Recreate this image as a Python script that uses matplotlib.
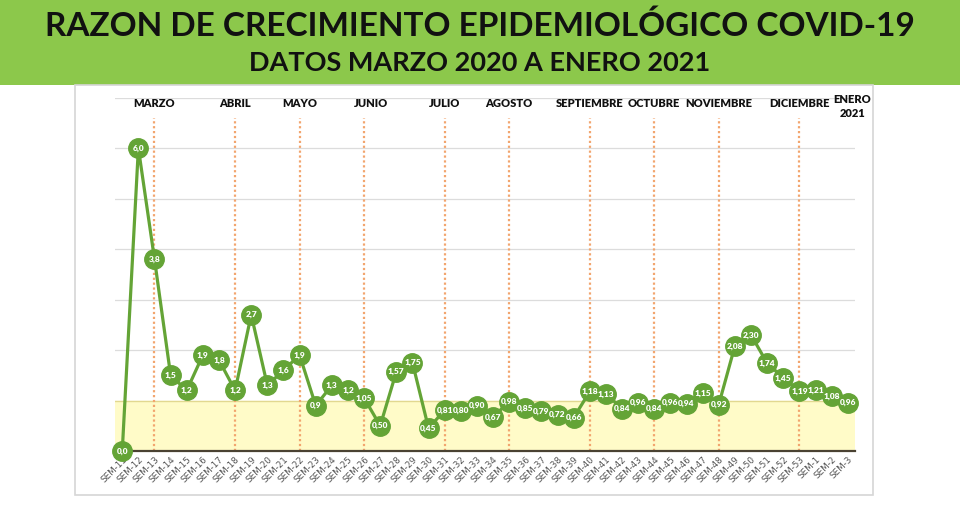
import matplotlib
matplotlib.use('Agg')
import matplotlib.pyplot as plt
from matplotlib.patches import Rectangle

# datos
semanas = ['SEM-%d' % s for s in range(11, 54)] + ['SEM-1', 'SEM-2', 'SEM-3']
razon = [0.0, 6.0, 3.8, 1.5, 1.2, 1.9, 1.8, 1.2, 2.7, 1.3, 1.6, 1.9, 0.9, 1.3, 1.2,
         1.05, 0.50, 1.57, 1.75, 0.45, 0.81, 0.80, 0.90, 0.67, 0.98, 0.85, 0.79, 0.72,
         0.66, 1.18, 1.13, 0.84, 0.96, 0.84, 0.96, 0.94, 1.15, 0.92, 2.08, 2.30, 1.74,
         1.45, 1.19, 1.21, 1.08, 0.96]
n_un_decimal = 15  # primeras semanas con un decimal

meses = ['MARZO', 'ABRIL', 'MAYO', 'JUNIO', 'JULIO', 'AGOSTO', 'SEPTIEMBRE',
         'OCTUBRE', 'NOVIEMBRE', 'DICIEMBRE', 'ENERO\n2021']
meses_x = [2, 7, 11, 15.4, 20, 24, 29, 33, 37, 42, 45.3]
divisiones = [2, 7, 11, 15, 20, 24, 29, 33, 37, 42]

W, H = 960, 522
fig = plt.figure(figsize=(W / 100, H / 100), dpi=100)
fig.patch.set_facecolor('white')

# banner verde
fig.patches.append(Rectangle((0, 1 - 85 / H), 1, 85 / H, transform=fig.transFigure,
                             facecolor='#8cc84b', edgecolor='none', zorder=0))
# marco del grafico
fig.patches.append(Rectangle((75 / W, 1 - 495 / H), 798 / W, 410 / H, transform=fig.transFigure,
                             facecolor='none', edgecolor='#d6d6d6', lw=1.2, zorder=0))

fig.text(0.5, 1 - 26 / H, 'RAZON DE CRECIMIENTO EPIDEMIOLÓGICO COVID-19', ha='center', va='center',
         fontsize=24, fontweight='bold', family='Lato', color='#111111')
fig.text(0.5, 1 - 63 / H, 'DATOS MARZO 2020 A ENERO 2021', ha='center', va='center',
         fontsize=19.5, fontweight='bold', family='Lato', color='#111111')

ax = fig.add_axes([115 / W, 1 - 451 / H, 740 / W, (451 - 97.7) / H])
x = list(range(len(razon)))
ax.set_xlim(-0.45, len(razon) - 1 + 0.45)
ax.set_ylim(0, 7)

ax.axhspan(0, 1, color='#fffbc8', zorder=0)
ax.axhline(1, color='#e2d890', lw=1, zorder=1)
for g in range(2, 8):
    ax.axhline(g, color='#dcdcdc', lw=0.9, zorder=1)

for d in divisiones:
    ax.plot([d, d], [0, 6.6], color='#f2a56e', lw=1.6, ls=(0, (1, 1.2)), zorder=2)

ax.plot(x, razon, color='#64a436', lw=2.3, marker='o', markersize=14,
        markerfacecolor='#64a436', markeredgecolor='#64a436', zorder=3, clip_on=False)

for i, v in enumerate(razon):
    txt = ('%.1f' if i < n_un_decimal else '%.2f') % v
    ax.text(i, v, txt.replace('.', ','), ha='center', va='center', fontsize=6,
            fontweight='heavy', color='white', family='Lato', zorder=4)

for m, mx in zip(meses, meses_x):
    ax.text(mx, 6.82 if '\n' in m else 6.88, m, ha='center', va='center', fontsize=8,
            fontweight='heavy', family='Lato', color='#111111', linespacing=1.3)

ax.set_xticks(x)
ax.set_xticklabels(semanas, rotation=45, ha='right', rotation_mode='anchor',
                   fontsize=6.3, color='#555555')
ax.tick_params(axis='x', length=0, pad=3)
ax.set_yticks([])
for s in ['top', 'right', 'left']:
    ax.spines[s].set_visible(False)
ax.spines['bottom'].set_color('#4a4232')
ax.spines['bottom'].set_linewidth(1.6)
ax.spines['bottom'].set_zorder(2.5)
ax.set_facecolor('white')

fig.savefig('out.png', dpi=100)
